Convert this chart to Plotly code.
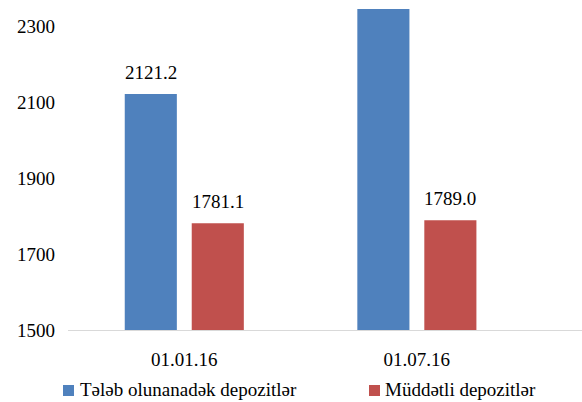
import plotly.graph_objects as go

# Deposit balances by date
dates = ["01.01.16", "01.07.16"]
demand_deposits = [2121.2, 2345.6]
term_deposits = [1781.1, 1789.0]
series_names = ["Tələb olunanadək depozitlər", "Müddətli depozitlər"]
y_ticks = [1500, 1700, 1900, 2100, 2300]
y_range = [1500, 2369]

colors = ["#4F81BD", "#C0504D"]
bar_width = 0.224
offsets = [-0.256, 0.032]
font_family = "Liberation Serif"
font_size = 19

# figure geometry (pixels)
W, H = 582, 402
M_L, M_R, M_T, M_B = 68, 0, 0, 72
plot_w, plot_h = W - M_L - M_R, H - M_T - M_B


def px_x(px):
    return (px - M_L) / plot_w


def px_y(py):
    return (H - M_B - py) / plot_h


x_pos = list(range(len(dates)))
fig = go.Figure()
annotations = []
for name, vals, color, off in zip(series_names, [demand_deposits, term_deposits], colors, offsets):
    fig.add_trace(go.Bar(
        x=x_pos, y=vals, name=name, width=bar_width, offset=off,
        marker=dict(color=color, line=dict(width=0)),
        showlegend=False,
    ))
    for xi, v in zip(x_pos, vals):
        # value labels sit above the bar; skip ones that would fall past the top of the axis
        if v > y_range[1] - 60:
            continue
        annotations.append(dict(
            x=xi + off + bar_width / 2, y=v, xref="x", yref="y",
            text=f"{v:.1f}", showarrow=False, yanchor="middle", yshift=22,
            font=dict(family=font_family, size=font_size, color="#000000"),
        ))

# legend row under the axis: colour square followed by series name
shapes = []
legend_items = [(63, 78), (369, 383)]
for (sq_left, txt_left), name, color in zip(legend_items, series_names, colors):
    shapes.append(dict(
        type="rect", xref="paper", yref="paper",
        x0=px_x(sq_left), x1=px_x(sq_left + 11),
        y0=px_y(396), y1=px_y(385),
        fillcolor=color, line=dict(width=0),
    ))
    annotations.append(dict(
        x=px_x(txt_left), y=px_y(389), xref="paper", yref="paper",
        xanchor="left", yanchor="middle", text=name, showarrow=False,
        font=dict(family=font_family, size=font_size, color="#000000"),
    ))

fig.update_layout(
    width=W, height=H,
    margin=dict(l=M_L, r=M_R, t=M_T, b=M_B, autoexpand=False),
    paper_bgcolor="white", plot_bgcolor="white",
    barmode="overlay",
    font=dict(family=font_family, size=font_size, color="#000000"),
    annotations=annotations,
    shapes=shapes,
    showlegend=False,
    xaxis=dict(
        range=[-0.5, 1.71], tickmode="array", tickvals=x_pos, ticktext=dates,
        showgrid=False, zeroline=False, showline=True, linecolor="#D9D9D9",
        linewidth=1, ticks="", ticklabelstandoff=12,
    ),
    yaxis=dict(
        range=y_range, tickmode="array", tickvals=y_ticks,
        showgrid=False, zeroline=False, showline=False, ticks="",
        ticklabelstandoff=12,
    ),
)

fig.write_html("out.html")
